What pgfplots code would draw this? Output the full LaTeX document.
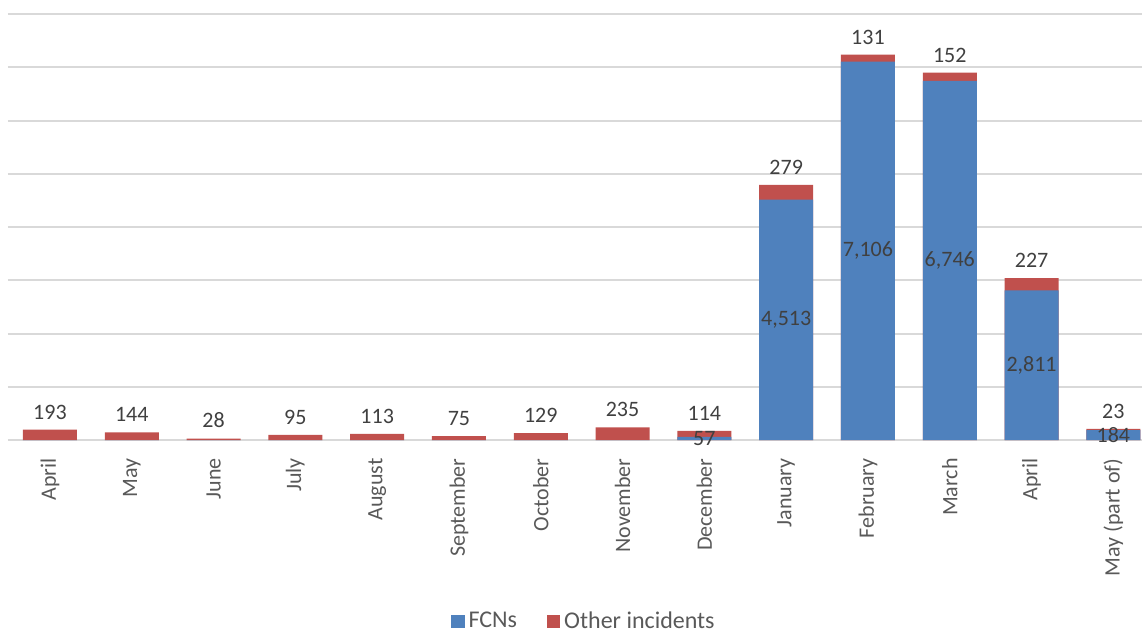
\documentclass[border=0pt]{standalone}
\usepackage{pgfplots}
\usepackage{pgfplotstable}
\pgfplotsset{compat=1.18}
\usepackage{fontspec}
\setmainfont{Carlito}
\definecolor{fcnblue}{HTML}{4F81BD}
\definecolor{othred}{HTML}{C0504D}
\definecolor{gridgray}{HTML}{D9D9D9}
\definecolor{lbl}{HTML}{404040}
\definecolor{axlbl}{HTML}{595959}
\pgfplotstableread{
x fcn fl oth ol
0 0 {} 193 193
1 0 {} 144 144
2 0 {} 28 28
3 0 {} 95 95
4 0 {} 113 113
5 0 {} 75 75
6 0 {} 129 129
7 0 {} 235 235
8 57 57 114 114
9 4513 4,513 279 279
10 7106 7,106 131 131
11 6746 6,746 152 152
12 2811 2,811 227 227
13 184 184 23 23
}\datatable
\begin{document}
\begin{tikzpicture}
\useasboundingbox (-4pt,-96pt) rectangle (567pt,220pt);
\begin{axis}[
  at={(0,0)}, anchor=south west,
  scale only axis, width=567pt, height=213pt,
  xmin=-0.513, xmax=13.35,
  ymin=0, ymax=8000,
  ytick={0,1000,...,8000}, yticklabels={},
  ymajorgrids, grid style={gridgray, line width=1pt},
  axis line style={draw=none},
  major tick length=0pt,
  xtick={0,...,13},
  xticklabels={April,May,June,July,August,September,October,November,December,January,February,March,April,May (part of)},
  xticklabel style={rotate=90, anchor=east, inner xsep=9pt, inner ysep=0pt, font=\fontsize{11}{13}\selectfont, text=axlbl},
  legend style={at={(0.5088,-0.426)}, anchor=center, draw=none, fill=none,
    legend columns=2, font=\fontsize{12}{14}\selectfont, text=axlbl,
    /tikz/every even column/.append style={column sep=13pt}},
  legend image code/.code={\fill[#1] (0pt,-3.3pt) rectangle (6.6pt,3.3pt);},
]
% Other incidents drawn as full stack height, FCNs drawn over its lower part
\addplot[ybar, bar width=27pt, bar shift=0pt, fill=othred, draw=none, forget plot]
  table[x=x, y expr=\thisrow{fcn}+\thisrow{oth}] {\datatable};
\addplot[ybar, bar width=27pt, bar shift=0pt, fill=fcnblue, draw=none]
  table[x=x, y=fcn] {\datatable};
\addlegendentry{FCNs}
\addlegendimage{fill=othred, draw=none}
\addlegendentry{Other incidents}
% labels
\addplot[draw=none, mark=none, forget plot, point meta=explicit symbolic,
  nodes near coords,
  every node near coord/.style={anchor=center, font=\fontsize{11}{13}\selectfont, text=lbl}]
  table[x=x, y expr=\thisrow{fcn}/2, meta=fl] {\datatable};
\addplot[draw=none, mark=none, forget plot, point meta=explicit symbolic,
  nodes near coords,
  every node near coord/.style={anchor=south, inner sep=3.7pt, yshift=1.3pt, font=\fontsize{11}{13}\selectfont, text=lbl}]
  table[x=x, y expr=\thisrow{fcn}+\thisrow{oth}, meta=ol] {\datatable};
\end{axis}
\end{tikzpicture}
\end{document}
